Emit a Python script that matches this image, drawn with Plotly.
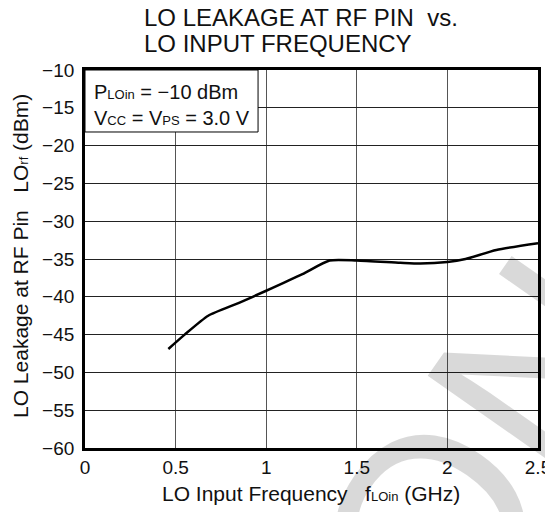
import plotly.graph_objects as go

# Data
freq_ghz = [0.46, 0.55, 0.68, 0.85, 1.0, 1.2, 1.35, 1.5, 1.74, 1.85, 2.0, 2.1, 2.27, 2.5]
lo_leak_dbm = [-46.9, -45.0, -42.5, -40.8, -39.2, -37.0, -35.2, -35.2, -35.5, -35.6, -35.4, -35.0, -33.8, -32.9]

x_ticks = [0, 0.5, 1, 1.5, 2, 2.5]
x_tick_labels = ["0", "0.5", "1", "1.5", "2", "2.5"]
y_ticks = [-10, -15, -20, -25, -30, -35, -40, -45, -50, -55, -60]
y_tick_labels = ["\u221210", "\u221215", "\u221220", "\u221225", "\u221230", "\u221235",
                 "\u221240", "\u221245", "\u221250", "\u221255", "\u221260"]

FONT = "Liberation Sans, Arial, sans-serif"
SUB = '<span style="font-size:13px">'
TXT = "#111"

# page has an 8px body margin
OFF = 8
W, H = 553, 512
L, R, T, B = 77, 23, 62, 72
PW, PH = W - L - R, H - T - B


def px(xpage):
    return (xpage - OFF - L) / PW


def py(ypage):
    return (H - B - (ypage - OFF)) / PH


fig = go.Figure()
fig.add_trace(go.Scatter(
    x=freq_ghz, y=lo_leak_dbm, mode="lines",
    line=dict(color="black", width=2.5, shape="spline", smoothing=0.6),
    showlegend=False, hoverinfo="skip",
))

fig.update_layout(
    width=W, height=H,
    margin=dict(l=L, r=R, t=T, b=B, autoexpand=False),
    paper_bgcolor="white", plot_bgcolor="white",
    font=dict(family=FONT, color=TXT, size=19),
    xaxis=dict(
        range=[0, 2.5], tickvals=x_ticks, ticktext=x_tick_labels,
        showgrid=True, gridcolor="#555", gridwidth=1,
        showline=True, linecolor="black", linewidth=2.7, mirror=True,
        ticks="", zeroline=False, tickfont=dict(size=19), automargin=False,
        ticklabelstandoff=0,
    ),
    yaxis=dict(
        range=[-60, -10], tickvals=y_ticks, ticktext=y_tick_labels,
        showgrid=True, gridcolor="#222", gridwidth=1,
        showline=True, linecolor="black", linewidth=2.7, mirror=True,
        ticks="", zeroline=False, tickfont=dict(size=19), automargin=False,
        ticklabelstandoff=4,
    ),
)

# Condition box
fig.add_shape(type="rect", xref="x", yref="y", x0=0, x1=0.955, y0=-18.2, y1=-10,
              fillcolor="white", line=dict(color="black", width=1), layer="above")
fig.add_annotation(
    xref="paper", yref="paper", x=px(92), y=py(79), xanchor="left", yanchor="top",
    text="P" + SUB + "LOin</span> = \u221210 dBm<br>V" + SUB + "CC</span> = V" + SUB + "PS</span> = 3.0 V",
    showarrow=False, align="left", font=dict(size=20, color=TXT),
)

# Title (two lines)
fig.add_annotation(
    xref="paper", yref="paper", x=px(142), y=py(18), xanchor="left", yanchor="middle",
    text="LO LEAKAGE AT RF PIN  vs.", showarrow=False, font=dict(size=24, color=TXT),
)
fig.add_annotation(
    xref="paper", yref="paper", x=px(142), y=py(44), xanchor="left", yanchor="middle",
    text="LO INPUT FREQUENCY", showarrow=False, font=dict(size=24, color=TXT),
)

# Axis titles
fig.add_annotation(
    xref="paper", yref="paper", x=px(311), y=py(493), xanchor="center", yanchor="middle",
    text="LO Input Frequency   f" + SUB + "LOin</span> (GHz)",
    showarrow=False, font=dict(size=21, color=TXT),
)
fig.add_annotation(
    xref="paper", yref="paper", x=px(20), y=py(256), xanchor="center", yanchor="middle",
    text="LO Leakage at RF Pin   LO" + SUB + "rf</span> (dBm)", textangle=-90,
    showarrow=False, font=dict(size=21, color=TXT),
)

# Watermark
fig.add_annotation(
    xref="paper", yref="paper", x=px(484), y=py(451), xanchor="center", yanchor="middle",
    text="ON", textangle=-55, showarrow=False,
    font=dict(size=262, color="rgba(0,0,0,0.15)", family=FONT),
)

fig.write_html("out.html")
